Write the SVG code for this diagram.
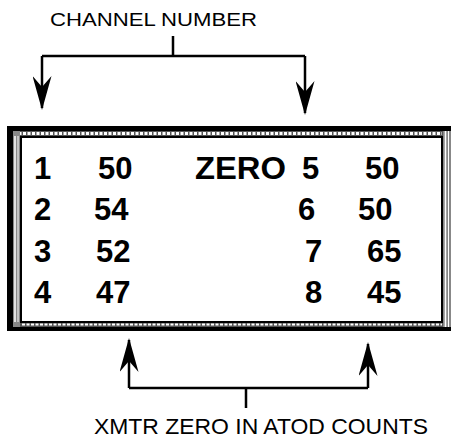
<svg xmlns="http://www.w3.org/2000/svg" width="451" height="438" viewBox="0 0 451 438">
<style>
.lbl{font-family:"Liberation Sans",Arial,sans-serif;fill:#000}
.v{font-family:"Liberation Sans",Arial,sans-serif;font-weight:bold;font-size:31px;fill:#000}
.ln{stroke:#000;stroke-width:2.5;fill:none}
</style>
<defs>
<marker id="ah" markerUnits="userSpaceOnUse" markerWidth="34" markerHeight="19" refX="32" refY="9.5" orient="auto" viewBox="0 0 34 19">
<path d="M34,9.5 L0,0 L11,9.5 L0,19 Z" fill="#000"/>
</marker>
</defs>
<g id="frame">
<rect x="7" y="126" width="444" height="5" fill="#000"/>
<rect x="7" y="126" width="6" height="205" fill="#000"/>
<rect x="7" y="327" width="444" height="4" fill="#000"/>
<rect x="13" y="131" width="438" height="6" fill="#555"/>
<line x1="14" y1="133.5" x2="442" y2="133.5" stroke="#fff" stroke-width="3" stroke-dasharray="3 1.5"/>
<rect x="13" y="322" width="438" height="5" fill="#555"/>
<line x1="22" y1="324.5" x2="442" y2="324.5" stroke="#fff" stroke-width="2" stroke-dasharray="3 1.5"/>
<rect x="13" y="131" width="7" height="196" fill="#888"/>
<line x1="15" y1="136" x2="15" y2="322" stroke="#fff" stroke-width="1.5"/>
<line x1="18" y1="136" x2="18" y2="322" stroke="#fff" stroke-width="1"/>
<rect x="443" y="131" width="8" height="196" fill="#888"/>
<line x1="445.5" y1="131" x2="445.5" y2="327" stroke="#fff" stroke-width="1.5"/>
<line x1="448.5" y1="131" x2="448.5" y2="327" stroke="#fff" stroke-width="1"/>
<rect x="21" y="137" width="421" height="185" fill="#fff" stroke="#000" stroke-width="2"/>
</g>
<g id="values">
<text class="v" x="34" y="179">1</text>
<text class="v" x="98" y="179">50</text>
<text class="v" x="195" y="179" textLength="91" lengthAdjust="spacingAndGlyphs">ZERO</text>
<text class="v" x="302" y="179">5</text>
<text class="v" x="365" y="179">50</text>
<text class="v" x="34" y="220">2</text>
<text class="v" x="94" y="220">54</text>
<text class="v" x="298" y="220">6</text>
<text class="v" x="358" y="220">50</text>
<text class="v" x="34" y="262">3</text>
<text class="v" x="96" y="262">52</text>
<text class="v" x="305" y="262">7</text>
<text class="v" x="367" y="262">65</text>
<text class="v" x="34" y="303">4</text>
<text class="v" x="96" y="303">47</text>
<text class="v" x="305" y="303">8</text>
<text class="v" x="367" y="303">45</text>
</g>
<g id="top-label">
<text class="lbl" x="50" y="26" font-size="18" textLength="207" lengthAdjust="spacingAndGlyphs">CHANNEL NUMBER</text>
</g>
<g id="bottom-label">
<text class="lbl" x="94" y="433.5" font-size="22" textLength="334" lengthAdjust="spacingAndGlyphs">XMTR ZERO IN ATOD COUNTS</text>
</g>
<g id="connectors">
<path class="ln" d="M173,36 V56 M42,56 H305"/>
<path class="ln" d="M42,56 V108" marker-end="url(#ah)"/>
<path class="ln" d="M305,56 V113" marker-end="url(#ah)"/>
<path class="ln" d="M246,408 V388 M129,388 H368"/>
<path class="ln" d="M129,388 V340" marker-end="url(#ah)"/>
<path class="ln" d="M368,388 V344" marker-end="url(#ah)"/>
</g>
</svg>
